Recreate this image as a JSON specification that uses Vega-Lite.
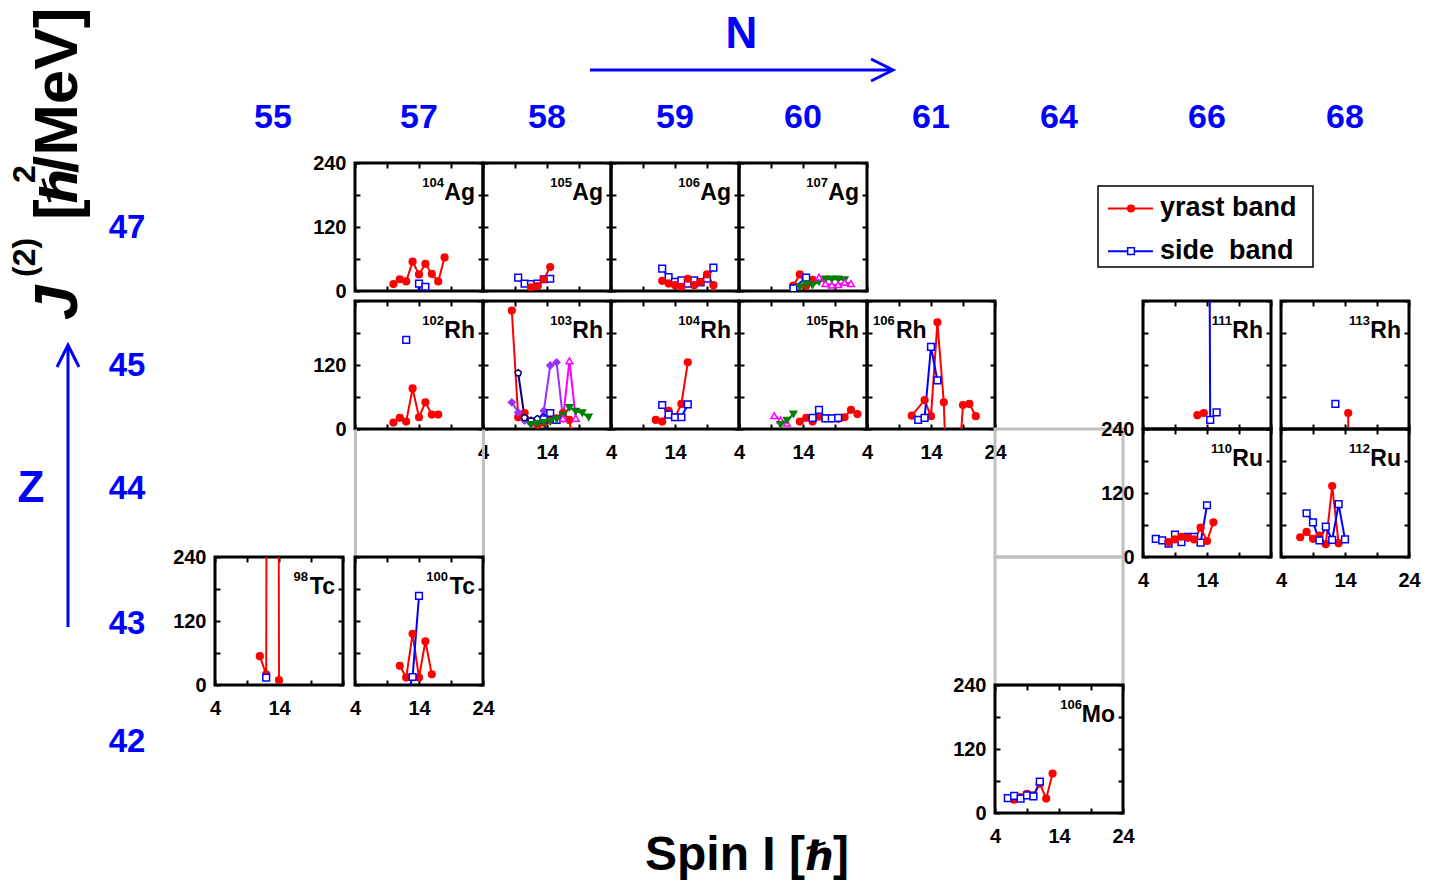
{
"$schema":"https://vega.github.io/schema/vega-lite/v6.json",
"padding":0,
"background":"white",
"config":{
 "view":{"stroke":null},
 "font":"Liberation Sans",
 "text":{"font":"Liberation Sans"},
 "concat":{"spacing":0},
 "axis":{"domain":false,"grid":false,"ticks":true,"tickSize":-5,"tickWidth":2,"tickColor":"black","labelFont":"Liberation Sans","labelFontSize":20,"labelFontWeight":"bold","labelColor":"black","labelFlush":false,"labelOverlap":false,"labelBound":false},
 "axisX":{"labelPadding":18},
 "axisY":{"labelPadding":14}
},
"datasets":{
 "nucs":[
  {"n":"104Ag","A":"104","el":"Ag"},{"n":"105Ag","A":"105","el":"Ag"},{"n":"106Ag","A":"106","el":"Ag"},{"n":"107Ag","A":"107","el":"Ag"},
  {"n":"102Rh","A":"102","el":"Rh"},{"n":"103Rh","A":"103","el":"Rh"},{"n":"104Rh","A":"104","el":"Rh"},{"n":"105Rh","A":"105","el":"Rh"},{"n":"106Rh","A":"106","el":"Rh"},{"n":"111Rh","A":"111","el":"Rh"},{"n":"113Rh","A":"113","el":"Rh"},
  {"n":"110Ru","A":"110","el":"Ru"},{"n":"112Ru","A":"112","el":"Ru"},
  {"n":"98Tc","A":"98","el":"Tc"},{"n":"100Tc","A":"100","el":"Tc"},
  {"n":"106Mo","A":"106","el":"Mo"}
 ],
 "pts":[
  {"n":"104Ag","b":"y","I":10,"J":13},{"n":"104Ag","b":"y","I":11,"J":22},{"n":"104Ag","b":"y","I":12,"J":18},{"n":"104Ag","b":"y","I":13,"J":55},{"n":"104Ag","b":"y","I":14,"J":31},{"n":"104Ag","b":"y","I":15,"J":51},{"n":"104Ag","b":"y","I":16,"J":32},{"n":"104Ag","b":"y","I":17,"J":18},{"n":"104Ag","b":"y","I":18,"J":63},
  {"n":"104Ag","b":"s","I":13,"J":-150},{"n":"104Ag","b":"s","I":14,"J":14},{"n":"104Ag","b":"s","I":15,"J":8},
  {"n":"105Ag","b":"s","I":9.5,"J":25},{"n":"105Ag","b":"s","I":10.5,"J":14},{"n":"105Ag","b":"s","I":11.5,"J":13},{"n":"105Ag","b":"s","I":12.5,"J":14},{"n":"105Ag","b":"s","I":13.5,"J":22},{"n":"105Ag","b":"s","I":14.5,"J":23},
  {"n":"105Ag","b":"y","I":11.5,"J":7},{"n":"105Ag","b":"y","I":12.5,"J":9},{"n":"105Ag","b":"y","I":13.5,"J":22},{"n":"105Ag","b":"y","I":14.5,"J":45},
  {"n":"106Ag","b":"s","I":12,"J":42},{"n":"106Ag","b":"s","I":13,"J":26},{"n":"106Ag","b":"s","I":14,"J":17},{"n":"106Ag","b":"s","I":15,"J":20},{"n":"106Ag","b":"s","I":16,"J":14},{"n":"106Ag","b":"s","I":17,"J":20},{"n":"106Ag","b":"s","I":18,"J":16},{"n":"106Ag","b":"s","I":19,"J":23},{"n":"106Ag","b":"s","I":20,"J":44},
  {"n":"106Ag","b":"y","I":12,"J":19},{"n":"106Ag","b":"y","I":13,"J":14},{"n":"106Ag","b":"y","I":14,"J":11},{"n":"106Ag","b":"y","I":15,"J":8},{"n":"106Ag","b":"y","I":16,"J":23},{"n":"106Ag","b":"y","I":17,"J":11},{"n":"106Ag","b":"y","I":18,"J":17},{"n":"106Ag","b":"y","I":19,"J":31},{"n":"106Ag","b":"y","I":20,"J":11},{"n":"106Ag","b":"y","I":21,"J":-60},
  {"n":"107Ag","b":"y","I":12.5,"J":10},{"n":"107Ag","b":"y","I":13.5,"J":31},{"n":"107Ag","b":"y","I":14.5,"J":10},{"n":"107Ag","b":"y","I":15.5,"J":21},
  {"n":"107Ag","b":"s","I":12.5,"J":5},{"n":"107Ag","b":"s","I":14.5,"J":25},
  {"n":"107Ag","b":"g","I":13.5,"J":7},{"n":"107Ag","b":"g","I":14.5,"J":13},{"n":"107Ag","b":"g","I":15.5,"J":11},{"n":"107Ag","b":"g","I":16.5,"J":17},{"n":"107Ag","b":"g","I":17.5,"J":22},{"n":"107Ag","b":"g","I":18.5,"J":22},{"n":"107Ag","b":"g","I":19.5,"J":22},{"n":"107Ag","b":"g","I":20.5,"J":21},
  {"n":"107Ag","b":"m","I":16.5,"J":26},{"n":"107Ag","b":"m","I":17.5,"J":14},{"n":"107Ag","b":"m","I":18.5,"J":11},{"n":"107Ag","b":"m","I":19.5,"J":12},{"n":"107Ag","b":"m","I":20.5,"J":16},{"n":"107Ag","b":"m","I":21.5,"J":14},
  {"n":"102Rh","b":"y","I":10,"J":12},{"n":"102Rh","b":"y","I":11,"J":21},{"n":"102Rh","b":"y","I":12,"J":14},{"n":"102Rh","b":"y","I":13,"J":76},{"n":"102Rh","b":"y","I":14,"J":22},{"n":"102Rh","b":"y","I":15,"J":50},{"n":"102Rh","b":"y","I":16,"J":27},{"n":"102Rh","b":"y","I":17,"J":27},
  {"n":"102Rh","b":"s","I":12,"J":167},
  {"n":"103Rh","b":"y","I":8.5,"J":222},{"n":"103Rh","b":"y","I":9.5,"J":22},{"n":"103Rh","b":"y","I":10.5,"J":30},{"n":"103Rh","b":"y","I":11.5,"J":15},{"n":"103Rh","b":"y","I":12.5,"J":8},{"n":"103Rh","b":"y","I":13.5,"J":12},{"n":"103Rh","b":"y","I":14.5,"J":16},{"n":"103Rh","b":"y","I":15.5,"J":20},{"n":"103Rh","b":"y","I":16.5,"J":30},{"n":"103Rh","b":"y","I":17.5,"J":17},{"n":"103Rh","b":"y","I":18.5,"J":-60},
  {"n":"103Rh","b":"p","I":8.5,"J":50},{"n":"103Rh","b":"p","I":9.5,"J":31},{"n":"103Rh","b":"p","I":10.5,"J":16},{"n":"103Rh","b":"p","I":11.5,"J":10},{"n":"103Rh","b":"p","I":12.5,"J":12},{"n":"103Rh","b":"p","I":13.5,"J":34},{"n":"103Rh","b":"p","I":14.5,"J":119},{"n":"103Rh","b":"p","I":15.5,"J":125},{"n":"103Rh","b":"p","I":16.5,"J":19},
  {"n":"103Rh","b":"n","I":9.5,"J":105},{"n":"103Rh","b":"n","I":10.5,"J":21},{"n":"103Rh","b":"n","I":11.5,"J":16},{"n":"103Rh","b":"n","I":12.5,"J":19},{"n":"103Rh","b":"n","I":13.5,"J":22},{"n":"103Rh","b":"n","I":14.5,"J":-60},
  {"n":"103Rh","b":"s","I":13.5,"J":18},{"n":"103Rh","b":"s","I":14.5,"J":30},{"n":"103Rh","b":"s","I":15.5,"J":17},
  {"n":"103Rh","b":"g","I":11.5,"J":8},{"n":"103Rh","b":"g","I":12.5,"J":10},{"n":"103Rh","b":"g","I":13.5,"J":12},{"n":"103Rh","b":"g","I":14.5,"J":14},{"n":"103Rh","b":"g","I":15.5,"J":18},{"n":"103Rh","b":"g","I":16.5,"J":25},{"n":"103Rh","b":"g","I":17.5,"J":40},{"n":"103Rh","b":"g","I":18.5,"J":33},{"n":"103Rh","b":"g","I":19.5,"J":30},{"n":"103Rh","b":"g","I":20.5,"J":22},
  {"n":"103Rh","b":"m","I":16.5,"J":20},{"n":"103Rh","b":"m","I":17.5,"J":128},{"n":"103Rh","b":"m","I":18.5,"J":20},
  {"n":"104Rh","b":"y","I":11,"J":17},{"n":"104Rh","b":"y","I":12,"J":14},{"n":"104Rh","b":"y","I":13,"J":34},{"n":"104Rh","b":"y","I":14,"J":22},{"n":"104Rh","b":"y","I":15,"J":47},{"n":"104Rh","b":"y","I":16,"J":125},
  {"n":"104Rh","b":"s","I":12,"J":45},{"n":"104Rh","b":"s","I":13,"J":27},{"n":"104Rh","b":"s","I":14,"J":22},{"n":"104Rh","b":"s","I":15,"J":22},{"n":"104Rh","b":"s","I":16,"J":46},
  {"n":"105Rh","b":"m","I":9.5,"J":25},{"n":"105Rh","b":"m","I":10.5,"J":17},{"n":"105Rh","b":"m","I":11.5,"J":11},
  {"n":"105Rh","b":"g","I":10.5,"J":8},{"n":"105Rh","b":"g","I":11.5,"J":16},{"n":"105Rh","b":"g","I":12.5,"J":28},
  {"n":"105Rh","b":"y","I":13.5,"J":14},{"n":"105Rh","b":"y","I":14.5,"J":21},{"n":"105Rh","b":"y","I":15.5,"J":14},{"n":"105Rh","b":"y","I":16.5,"J":23},{"n":"105Rh","b":"y","I":17.5,"J":20},{"n":"105Rh","b":"y","I":18.5,"J":20},{"n":"105Rh","b":"y","I":19.5,"J":19},{"n":"105Rh","b":"y","I":20.5,"J":22},{"n":"105Rh","b":"y","I":21.5,"J":36},{"n":"105Rh","b":"y","I":22.5,"J":28},
  {"n":"105Rh","b":"s","I":15.5,"J":21},{"n":"105Rh","b":"s","I":16.5,"J":36},{"n":"105Rh","b":"s","I":17.5,"J":20},{"n":"105Rh","b":"s","I":18.5,"J":20},{"n":"105Rh","b":"s","I":19.5,"J":21},
  {"n":"106Rh","b":"y","I":11,"J":25},{"n":"106Rh","b":"y","I":13,"J":54},{"n":"106Rh","b":"y","I":14,"J":24},{"n":"106Rh","b":"y","I":15,"J":200},{"n":"106Rh","b":"y","I":16,"J":50},{"n":"106Rh","b":"y","I":17,"J":-300},{"n":"106Rh","b":"y","I":19,"J":45},{"n":"106Rh","b":"y","I":20,"J":47},{"n":"106Rh","b":"y","I":21,"J":24},
  {"n":"106Rh","b":"s","I":12,"J":17},{"n":"106Rh","b":"s","I":13,"J":21},{"n":"106Rh","b":"s","I":14,"J":154},{"n":"106Rh","b":"s","I":15,"J":91},
  {"n":"111Rh","b":"y","I":12.5,"J":26},{"n":"111Rh","b":"y","I":13.5,"J":30},
  {"n":"111Rh","b":"s","I":13.5,"J":3000},{"n":"111Rh","b":"s","I":14.5,"J":17},{"n":"111Rh","b":"s","I":15.5,"J":31},
  {"n":"113Rh","b":"s","I":12.5,"J":47},
  {"n":"113Rh","b":"y","I":14.5,"J":30},{"n":"113Rh","b":"y","I":15.5,"J":-3000},
  {"n":"110Ru","b":"s","I":6,"J":34},{"n":"110Ru","b":"s","I":7,"J":31},{"n":"110Ru","b":"s","I":8,"J":25},{"n":"110Ru","b":"s","I":9,"J":42},{"n":"110Ru","b":"s","I":10,"J":28},{"n":"110Ru","b":"s","I":11,"J":38},{"n":"110Ru","b":"s","I":12,"J":38},{"n":"110Ru","b":"s","I":13,"J":27},{"n":"110Ru","b":"s","I":14,"J":97},
  {"n":"110Ru","b":"y","I":8,"J":28},{"n":"110Ru","b":"y","I":9,"J":33},{"n":"110Ru","b":"y","I":10,"J":38},{"n":"110Ru","b":"y","I":11,"J":36},{"n":"110Ru","b":"y","I":12,"J":33},{"n":"110Ru","b":"y","I":13,"J":55},{"n":"110Ru","b":"y","I":14,"J":30},{"n":"110Ru","b":"y","I":15,"J":65},
  {"n":"112Ru","b":"y","I":7,"J":37},{"n":"112Ru","b":"y","I":8,"J":47},{"n":"112Ru","b":"y","I":9,"J":34},{"n":"112Ru","b":"y","I":10,"J":40},{"n":"112Ru","b":"y","I":11,"J":24},{"n":"112Ru","b":"y","I":12,"J":133},{"n":"112Ru","b":"y","I":13,"J":26},
  {"n":"112Ru","b":"s","I":8,"J":82},{"n":"112Ru","b":"s","I":9,"J":65},{"n":"112Ru","b":"s","I":10,"J":31},{"n":"112Ru","b":"s","I":11,"J":57},{"n":"112Ru","b":"s","I":12,"J":32},{"n":"112Ru","b":"s","I":13,"J":99},{"n":"112Ru","b":"s","I":14,"J":33},
  {"n":"98Tc","b":"y","I":11,"J":54},{"n":"98Tc","b":"y","I":12,"J":20},{"n":"98Tc","b":"y","I":13,"J":6000},{"n":"98Tc","b":"y","I":14,"J":9},
  {"n":"98Tc","b":"s","I":12,"J":14},
  {"n":"100Tc","b":"y","I":11,"J":36},{"n":"100Tc","b":"y","I":12,"J":14},{"n":"100Tc","b":"y","I":13,"J":96},{"n":"100Tc","b":"y","I":14,"J":14},{"n":"100Tc","b":"y","I":15,"J":82},{"n":"100Tc","b":"y","I":16,"J":20},
  {"n":"100Tc","b":"s","I":12,"J":-25},{"n":"100Tc","b":"s","I":13,"J":15},{"n":"100Tc","b":"s","I":14,"J":167},
  {"n":"106Mo","b":"y","I":7,"J":25},{"n":"106Mo","b":"y","I":8,"J":30},{"n":"106Mo","b":"y","I":9,"J":36},{"n":"106Mo","b":"y","I":10,"J":33},{"n":"106Mo","b":"y","I":11,"J":55},{"n":"106Mo","b":"y","I":12,"J":27},{"n":"106Mo","b":"y","I":13,"J":74},
  {"n":"106Mo","b":"s","I":6,"J":28},{"n":"106Mo","b":"s","I":7,"J":32},{"n":"106Mo","b":"s","I":8,"J":27},{"n":"106Mo","b":"s","I":9,"J":33},{"n":"106Mo","b":"s","I":10,"J":31},{"n":"106Mo","b":"s","I":11,"J":59}
 ]
},
"columns":15,
"spacing":0,
"bounds":"flush",
"concat":[
 {"width":100,"height":70,"view":{"fill":"white"},"data":{"values":[]},"mark":"point"},
 {"width":1,"height":1,"data":{"values":[]},"mark":"point"},
 {"width":1,"height":1,"data":{"values":[]},"mark":"point"},
 {"width":1,"height":1,"data":{"values":[]},"mark":"point"},
 {"width":1,"height":1,"data":{"values":[]},"mark":"point"},
 {"width":1,"height":1,"data":{"values":[]},"mark":"point"},
 {"width":1,"height":1,"data":{"values":[]},"mark":"point"},
 {"width":128,"height":70,"data":{"values":[{"t":"N"}]},"layer":[
  {"mark":{"type":"rule","stroke":"#0000ff","strokeWidth":3},"encoding":{"x":{"datum":0,"type":"quantitative","scale":{"domain":[0.0693,0.4917],"nice":false,"zero":false},"axis":null},"x2":{"datum":1},"y":{"datum":0,"type":"quantitative","scale":{"domain":[0,1],"nice":false},"axis":null}}},
  {"mark":{"type":"point","shape":"M-2,-1L0,0L-2,1","size":484,"filled":false,"stroke":"#0000ff","strokeWidth":3,"opacity":1},"encoding":{"x":{"datum":1,"type":"quantitative"},"y":{"datum":0,"type":"quantitative"}}},
  {"mark":{"type":"text","fontSize":44,"fontWeight":"bold","color":"#0000ff","baseline":"alphabetic","dy":13},"encoding":{"x":{"datum":0.5,"type":"quantitative"},"y":{"datum":0.5,"type":"quantitative"},"text":{"field":"t","type":"nominal"}}}
 ]},
 {"width":1,"height":1,"data":{"values":[]},"mark":"point"},
 {"width":1,"height":1,"data":{"values":[]},"mark":"point"},
 {"width":1,"height":1,"data":{"values":[]},"mark":"point"},
 {"width":1,"height":1,"data":{"values":[]},"mark":"point"},
 {"width":1,"height":1,"data":{"values":[]},"mark":"point"},
 {"width":1,"height":1,"data":{"values":[]},"mark":"point"},
 {"width":1,"height":1,"data":{"values":[]},"mark":"point"},

 {"width":1,"height":1,"data":{"values":[]},"mark":"point"},
 {"width":1,"height":1,"data":{"values":[]},"mark":"point"},
 {"width":1,"height":93,"data":{"values":[]},"mark":"point"},
 {"width":128,"height":93,"data":{"values":[{"t":"55"}]},"mark":{"type":"text","fontSize":34,"fontWeight":"bold","color":"#0000ff","baseline":"alphabetic","dy":11.5,"dx":-6},"encoding":{"x":{"datum":0.5,"type":"quantitative","scale":{"domain":[0,1]},"axis":null},"y":{"datum":0.5,"type":"quantitative","scale":{"domain":[0,1]},"axis":null},"text":{"field":"t","type":"nominal"}}},
 {"width":1,"height":1,"data":{"values":[]},"mark":"point"},
 {"width":128,"height":93,"data":{"values":[{"t":"57"}]},"mark":{"type":"text","fontSize":34,"fontWeight":"bold","color":"#0000ff","baseline":"alphabetic","dy":11.5},"encoding":{"x":{"datum":0.5,"type":"quantitative","scale":{"domain":[0,1]},"axis":null},"y":{"datum":0.5,"type":"quantitative","scale":{"domain":[0,1]},"axis":null},"text":{"field":"t","type":"nominal"}}},
 {"width":128,"height":93,"data":{"values":[{"t":"58"}]},"mark":{"type":"text","fontSize":34,"fontWeight":"bold","color":"#0000ff","baseline":"alphabetic","dy":11.5},"encoding":{"x":{"datum":0.5,"type":"quantitative","scale":{"domain":[0,1]},"axis":null},"y":{"datum":0.5,"type":"quantitative","scale":{"domain":[0,1]},"axis":null},"text":{"field":"t","type":"nominal"}}},
 {"width":128,"height":93,"data":{"values":[{"t":"59"}]},"mark":{"type":"text","fontSize":34,"fontWeight":"bold","color":"#0000ff","baseline":"alphabetic","dy":11.5},"encoding":{"x":{"datum":0.5,"type":"quantitative","scale":{"domain":[0,1]},"axis":null},"y":{"datum":0.5,"type":"quantitative","scale":{"domain":[0,1]},"axis":null},"text":{"field":"t","type":"nominal"}}},
 {"width":128,"height":93,"data":{"values":[{"t":"60"}]},"mark":{"type":"text","fontSize":34,"fontWeight":"bold","color":"#0000ff","baseline":"alphabetic","dy":11.5},"encoding":{"x":{"datum":0.5,"type":"quantitative","scale":{"domain":[0,1]},"axis":null},"y":{"datum":0.5,"type":"quantitative","scale":{"domain":[0,1]},"axis":null},"text":{"field":"t","type":"nominal"}}},
 {"width":128,"height":93,"data":{"values":[{"t":"61"}]},"mark":{"type":"text","fontSize":34,"fontWeight":"bold","color":"#0000ff","baseline":"alphabetic","dy":11.5},"encoding":{"x":{"datum":0.5,"type":"quantitative","scale":{"domain":[0,1]},"axis":null},"y":{"datum":0.5,"type":"quantitative","scale":{"domain":[0,1]},"axis":null},"text":{"field":"t","type":"nominal"}}},
 {"width":128,"height":93,"data":{"values":[{"t":"64"}]},"mark":{"type":"text","fontSize":34,"fontWeight":"bold","color":"#0000ff","baseline":"alphabetic","dy":11.5},"encoding":{"x":{"datum":0.5,"type":"quantitative","scale":{"domain":[0,1]},"axis":null},"y":{"datum":0.5,"type":"quantitative","scale":{"domain":[0,1]},"axis":null},"text":{"field":"t","type":"nominal"}}},
 {"width":1,"height":1,"data":{"values":[]},"mark":"point"},
 {"width":128,"height":93,"data":{"values":[{"t":"66"}]},"mark":{"type":"text","fontSize":34,"fontWeight":"bold","color":"#0000ff","baseline":"alphabetic","dy":11.5},"encoding":{"x":{"datum":0.5,"type":"quantitative","scale":{"domain":[0,1]},"axis":null},"y":{"datum":0.5,"type":"quantitative","scale":{"domain":[0,1]},"axis":null},"text":{"field":"t","type":"nominal"}}},
 {"width":1,"height":1,"data":{"values":[]},"mark":"point"},
 {"width":128,"height":93,"data":{"values":[{"t":"68"}]},"mark":{"type":"text","fontSize":34,"fontWeight":"bold","color":"#0000ff","baseline":"alphabetic","dy":11.5},"encoding":{"x":{"datum":0.5,"type":"quantitative","scale":{"domain":[0,1]},"axis":null},"y":{"datum":0.5,"type":"quantitative","scale":{"domain":[0,1]},"axis":null},"text":{"field":"t","type":"nominal"}}},

 {"width":100,"height":128,"data":{"values":[{"t":"J"}]},"layer":[
  {"mark":{"type":"text","angle":270,"align":"left","baseline":"alphabetic","dx":-93,"dy":27,"fontSize":62,"fontWeight":"bold","fontStyle":"italic","color":"black"},"encoding":{"x":{"datum":0.5,"type":"quantitative","scale":{"domain":[0,1]},"axis":null},"y":{"datum":0.5,"type":"quantitative","scale":{"domain":[0,1]},"axis":null},"text":{"value":"J"}}},
  {"mark":{"type":"text","angle":270,"align":"left","baseline":"alphabetic","dx":-50,"dy":-15,"fontSize":32,"fontWeight":"bold","color":"black"},"encoding":{"x":{"datum":0.5,"type":"quantitative"},"y":{"datum":0.5,"type":"quantitative"},"text":{"value":"(2)"}}},
  {"mark":{"type":"text","angle":270,"align":"left","baseline":"alphabetic","dx":7,"dy":27,"fontSize":62,"fontWeight":"bold","color":"black"},"encoding":{"x":{"datum":0.5,"type":"quantitative"},"y":{"datum":0.5,"type":"quantitative"},"text":{"value":"["}}},
  {"mark":{"type":"text","angle":270,"align":"left","baseline":"alphabetic","dx":24,"dy":27,"fontSize":50,"fontWeight":"bold","fontStyle":"italic","font":"DejaVu Sans","color":"black"},"encoding":{"x":{"datum":0.5,"type":"quantitative"},"y":{"datum":0.5,"type":"quantitative"},"text":{"value":"ℏ"}}},
  {"mark":{"type":"text","angle":270,"align":"left","baseline":"alphabetic","dx":44,"dy":-15,"fontSize":32,"fontWeight":"bold","color":"black"},"encoding":{"x":{"datum":0.5,"type":"quantitative"},"y":{"datum":0.5,"type":"quantitative"},"text":{"value":"2"}}},
  {"mark":{"type":"text","angle":270,"align":"left","baseline":"alphabetic","dx":54,"dy":27,"fontSize":62,"fontWeight":"bold","color":"black"},"encoding":{"x":{"datum":0.5,"type":"quantitative"},"y":{"datum":0.5,"type":"quantitative"},"text":{"value":"/MeV]"}}}
 ]},
 {"width":54,"height":128,"data":{"values":[{"t":"47"}]},"mark":{"type":"text","fontSize":33,"fontWeight":"bold","color":"#0000ff","baseline":"alphabetic","dy":11},"encoding":{"x":{"datum":0.5,"type":"quantitative","scale":{"domain":[0,1]},"axis":null},"y":{"datum":0.5,"type":"quantitative","scale":{"domain":[0,1]},"axis":null},"text":{"field":"t","type":"nominal"}}},
 {"width":1,"height":1,"data":{"values":[]},"mark":"point"},
 {"width":1,"height":1,"data":{"values":[]},"mark":"point"},
 {"width":1,"height":1,"data":{"values":[]},"mark":"point"},
 {"width":128,"height":128,"view":{"stroke":"black","strokeWidth":3},"resolve":{"axis":{"x":"independent","y":"independent"}},"layer":[
  {"data":{"name":"pts"},"transform":[{"filter":"datum.n=='104Ag'"}],"mark":{"type":"line","clip":true,"strokeWidth":2},"encoding":{"x":{"field":"I","type":"quantitative","scale":{"domain":[4,24],"nice":false,"zero":false},"axis":{"orient":"bottom","values":[4,9,14,19,24],"labels":false,"title":null}},"y":{"field":"J","type":"quantitative","scale":{"domain":[0,240],"nice":false},"axis":{"orient":"left","values":[0,60,120,180,240],"labelExpr":"datum.value%120==0?datum.label:''","title":null}},"stroke":{"field":"b","type":"nominal","scale":{"domain":["y","s","p","n","g","m"],"range":["#ff0000","#0000ff","#9932ff","#000080","#008000","#ff00ff"]},"legend":null}}},
  {"data":{"name":"pts"},"transform":[{"filter":"datum.n=='104Ag'"}],"mark":{"type":"point","clip":true,"filled":true,"size":45,"strokeWidth":1.5,"opacity":1},"encoding":{"x":{"field":"I","type":"quantitative","axis":{"orient":"top","values":[4,9,14,19,24],"labels":false,"title":null}},"y":{"field":"J","type":"quantitative","axis":{"orient":"right","values":[0,60,120,180,240],"labels":false,"title":null}},"stroke":{"field":"b","type":"nominal","scale":{"domain":["y","s","p","n","g","m"],"range":["#ff0000","#0000ff","#9932ff","#000080","#008000","#ff00ff"]},"legend":null},"fill":{"field":"b","type":"nominal","scale":{"domain":["y","s","p","n","g","m"],"range":["#ff0000","#ffffff","#9932ff","#ffffff","#008000","#ffffff"]},"legend":null},"shape":{"field":"b","type":"nominal","scale":{"domain":["y","s","p","n","g","m"],"range":["circle","square","diamond","M0,-1L0.951,-0.309L0.588,0.809L-0.588,0.809L-0.951,-0.309Z","triangle-down","triangle-up"]},"legend":null}}},
  {"data":{"name":"nucs"},"transform":[{"filter":"datum.n=='104Ag'"}],"mark":{"type":"text","align":"right","baseline":"alphabetic","dx":-8,"dy":37,"fontSize":23,"fontWeight":"bold","color":"black"},"encoding":{"x":{"datum":24,"type":"quantitative","axis":null},"y":{"datum":240,"type":"quantitative","axis":null},"text":{"field":"el","type":"nominal"}}},
  {"data":{"name":"nucs"},"transform":[{"filter":"datum.n=='104Ag'"}],"mark":{"type":"text","align":"right","baseline":"alphabetic","dx":-39,"dy":24,"fontSize":13,"fontWeight":"bold","color":"black"},"encoding":{"x":{"datum":24,"type":"quantitative","axis":null},"y":{"datum":240,"type":"quantitative","axis":null},"text":{"field":"A","type":"nominal"}}}
 ]},
 {"width":128,"height":128,"view":{"stroke":"black","strokeWidth":3},"resolve":{"axis":{"x":"independent","y":"independent"}},"layer":[
  {"data":{"name":"pts"},"transform":[{"filter":"datum.n=='105Ag'"}],"mark":{"type":"line","clip":true,"strokeWidth":2},"encoding":{"x":{"field":"I","type":"quantitative","scale":{"domain":[4,24],"nice":false,"zero":false},"axis":{"orient":"bottom","values":[4,9,14,19,24],"labels":false,"title":null}},"y":{"field":"J","type":"quantitative","scale":{"domain":[0,240],"nice":false},"axis":{"orient":"left","values":[0,60,120,180,240],"labels":false,"title":null}},"stroke":{"field":"b","type":"nominal","scale":{"domain":["y","s","p","n","g","m"],"range":["#ff0000","#0000ff","#9932ff","#000080","#008000","#ff00ff"]},"legend":null}}},
  {"data":{"name":"pts"},"transform":[{"filter":"datum.n=='105Ag'"}],"mark":{"type":"point","clip":true,"filled":true,"size":45,"strokeWidth":1.5,"opacity":1},"encoding":{"x":{"field":"I","type":"quantitative","axis":{"orient":"top","values":[4,9,14,19,24],"labels":false,"title":null}},"y":{"field":"J","type":"quantitative","axis":{"orient":"right","values":[0,60,120,180,240],"labels":false,"title":null}},"stroke":{"field":"b","type":"nominal","scale":{"domain":["y","s","p","n","g","m"],"range":["#ff0000","#0000ff","#9932ff","#000080","#008000","#ff00ff"]},"legend":null},"fill":{"field":"b","type":"nominal","scale":{"domain":["y","s","p","n","g","m"],"range":["#ff0000","#ffffff","#9932ff","#ffffff","#008000","#ffffff"]},"legend":null},"shape":{"field":"b","type":"nominal","scale":{"domain":["y","s","p","n","g","m"],"range":["circle","square","diamond","M0,-1L0.951,-0.309L0.588,0.809L-0.588,0.809L-0.951,-0.309Z","triangle-down","triangle-up"]},"legend":null}}},
  {"data":{"name":"nucs"},"transform":[{"filter":"datum.n=='105Ag'"}],"mark":{"type":"text","align":"right","baseline":"alphabetic","dx":-8,"dy":37,"fontSize":23,"fontWeight":"bold","color":"black"},"encoding":{"x":{"datum":24,"type":"quantitative","axis":null},"y":{"datum":240,"type":"quantitative","axis":null},"text":{"field":"el","type":"nominal"}}},
  {"data":{"name":"nucs"},"transform":[{"filter":"datum.n=='105Ag'"}],"mark":{"type":"text","align":"right","baseline":"alphabetic","dx":-39,"dy":24,"fontSize":13,"fontWeight":"bold","color":"black"},"encoding":{"x":{"datum":24,"type":"quantitative","axis":null},"y":{"datum":240,"type":"quantitative","axis":null},"text":{"field":"A","type":"nominal"}}}
 ]},
 {"width":128,"height":128,"view":{"stroke":"black","strokeWidth":3},"resolve":{"axis":{"x":"independent","y":"independent"}},"layer":[
  {"data":{"name":"pts"},"transform":[{"filter":"datum.n=='106Ag'"}],"mark":{"type":"line","clip":true,"strokeWidth":2},"encoding":{"x":{"field":"I","type":"quantitative","scale":{"domain":[4,24],"nice":false,"zero":false},"axis":{"orient":"bottom","values":[4,9,14,19,24],"labels":false,"title":null}},"y":{"field":"J","type":"quantitative","scale":{"domain":[0,240],"nice":false},"axis":{"orient":"left","values":[0,60,120,180,240],"labels":false,"title":null}},"stroke":{"field":"b","type":"nominal","scale":{"domain":["y","s","p","n","g","m"],"range":["#ff0000","#0000ff","#9932ff","#000080","#008000","#ff00ff"]},"legend":null}}},
  {"data":{"name":"pts"},"transform":[{"filter":"datum.n=='106Ag'"}],"mark":{"type":"point","clip":true,"filled":true,"size":45,"strokeWidth":1.5,"opacity":1},"encoding":{"x":{"field":"I","type":"quantitative","axis":{"orient":"top","values":[4,9,14,19,24],"labels":false,"title":null}},"y":{"field":"J","type":"quantitative","axis":{"orient":"right","values":[0,60,120,180,240],"labels":false,"title":null}},"stroke":{"field":"b","type":"nominal","scale":{"domain":["y","s","p","n","g","m"],"range":["#ff0000","#0000ff","#9932ff","#000080","#008000","#ff00ff"]},"legend":null},"fill":{"field":"b","type":"nominal","scale":{"domain":["y","s","p","n","g","m"],"range":["#ff0000","#ffffff","#9932ff","#ffffff","#008000","#ffffff"]},"legend":null},"shape":{"field":"b","type":"nominal","scale":{"domain":["y","s","p","n","g","m"],"range":["circle","square","diamond","M0,-1L0.951,-0.309L0.588,0.809L-0.588,0.809L-0.951,-0.309Z","triangle-down","triangle-up"]},"legend":null}}},
  {"data":{"name":"nucs"},"transform":[{"filter":"datum.n=='106Ag'"}],"mark":{"type":"text","align":"right","baseline":"alphabetic","dx":-8,"dy":37,"fontSize":23,"fontWeight":"bold","color":"black"},"encoding":{"x":{"datum":24,"type":"quantitative","axis":null},"y":{"datum":240,"type":"quantitative","axis":null},"text":{"field":"el","type":"nominal"}}},
  {"data":{"name":"nucs"},"transform":[{"filter":"datum.n=='106Ag'"}],"mark":{"type":"text","align":"right","baseline":"alphabetic","dx":-39,"dy":24,"fontSize":13,"fontWeight":"bold","color":"black"},"encoding":{"x":{"datum":24,"type":"quantitative","axis":null},"y":{"datum":240,"type":"quantitative","axis":null},"text":{"field":"A","type":"nominal"}}}
 ]},
 {"width":128,"height":128,"view":{"stroke":"black","strokeWidth":3},"resolve":{"axis":{"x":"independent","y":"independent"}},"layer":[
  {"data":{"name":"pts"},"transform":[{"filter":"datum.n=='107Ag'"}],"mark":{"type":"line","clip":true,"strokeWidth":2},"encoding":{"x":{"field":"I","type":"quantitative","scale":{"domain":[4,24],"nice":false,"zero":false},"axis":{"orient":"bottom","values":[4,9,14,19,24],"labels":false,"title":null}},"y":{"field":"J","type":"quantitative","scale":{"domain":[0,240],"nice":false},"axis":{"orient":"left","values":[0,60,120,180,240],"labels":false,"title":null}},"stroke":{"field":"b","type":"nominal","scale":{"domain":["y","s","p","n","g","m"],"range":["#ff0000","#0000ff","#9932ff","#000080","#008000","#ff00ff"]},"legend":null}}},
  {"data":{"name":"pts"},"transform":[{"filter":"datum.n=='107Ag'"}],"mark":{"type":"point","clip":true,"filled":true,"size":45,"strokeWidth":1.5,"opacity":1},"encoding":{"x":{"field":"I","type":"quantitative","axis":{"orient":"top","values":[4,9,14,19,24],"labels":false,"title":null}},"y":{"field":"J","type":"quantitative","axis":{"orient":"right","values":[0,60,120,180,240],"labels":false,"title":null}},"stroke":{"field":"b","type":"nominal","scale":{"domain":["y","s","p","n","g","m"],"range":["#ff0000","#0000ff","#9932ff","#000080","#008000","#ff00ff"]},"legend":null},"fill":{"field":"b","type":"nominal","scale":{"domain":["y","s","p","n","g","m"],"range":["#ff0000","#ffffff","#9932ff","#ffffff","#008000","#ffffff"]},"legend":null},"shape":{"field":"b","type":"nominal","scale":{"domain":["y","s","p","n","g","m"],"range":["circle","square","diamond","M0,-1L0.951,-0.309L0.588,0.809L-0.588,0.809L-0.951,-0.309Z","triangle-down","triangle-up"]},"legend":null}}},
  {"data":{"name":"nucs"},"transform":[{"filter":"datum.n=='107Ag'"}],"mark":{"type":"text","align":"right","baseline":"alphabetic","dx":-8,"dy":37,"fontSize":23,"fontWeight":"bold","color":"black"},"encoding":{"x":{"datum":24,"type":"quantitative","axis":null},"y":{"datum":240,"type":"quantitative","axis":null},"text":{"field":"el","type":"nominal"}}},
  {"data":{"name":"nucs"},"transform":[{"filter":"datum.n=='107Ag'"}],"mark":{"type":"text","align":"right","baseline":"alphabetic","dx":-39,"dy":24,"fontSize":13,"fontWeight":"bold","color":"black"},"encoding":{"x":{"datum":24,"type":"quantitative","axis":null},"y":{"datum":240,"type":"quantitative","axis":null},"text":{"field":"A","type":"nominal"}}}
 ]},
 {"width":1,"height":1,"data":{"values":[]},"mark":"point"},
 {"width":1,"height":1,"data":{"values":[]},"mark":"point"},
 {"width":1,"height":1,"data":{"values":[]},"mark":"point"},
 {"width":128,"height":128,"data":{"values":[{"b":"y","lab":"yrast band"},{"b":"s","lab":"side\u00a0 band"}]},"resolve":{"scale":{"y":"independent"}},"layer":[
  {"data":{"values":[{"box":1}]},"mark":{"type":"rect","fill":"white","stroke":"black","strokeWidth":1.5},"encoding":{"x":{"datum":0,"type":"quantitative","scale":{"domain":[0.2093,0.8047],"nice":false,"zero":false},"axis":null},"x2":{"datum":1},"y":{"datum":0,"type":"quantitative","scale":{"domain":[-0.2963,1.2839],"nice":false,"zero":false},"axis":null},"y2":{"datum":1}}},
  {"mark":{"type":"rule","strokeWidth":2},"encoding":{"x":{"datum":0.0465,"type":"quantitative"},"x2":{"datum":0.256},"y":{"field":"b","type":"nominal","scale":{"type":"point","domain":["y","s"],"padding":1.278,"align":0.533},"axis":null},"stroke":{"field":"b","type":"nominal","scale":{"domain":["y","s","p","n","g","m"],"range":["#ff0000","#0000ff","#9932ff","#000080","#008000","#ff00ff"]},"legend":null}}},
  {"mark":{"type":"point","filled":true,"size":45,"strokeWidth":1.5,"opacity":1},"encoding":{"x":{"datum":0.1535,"type":"quantitative"},"y":{"field":"b","type":"nominal","scale":{"type":"point","domain":["y","s"],"padding":1.278,"align":0.533},"axis":null},"stroke":{"field":"b","type":"nominal","scale":{"domain":["y","s","p","n","g","m"],"range":["#ff0000","#0000ff","#9932ff","#000080","#008000","#ff00ff"]},"legend":null},"fill":{"field":"b","type":"nominal","scale":{"domain":["y","s","p","n","g","m"],"range":["#ff0000","#ffffff","#9932ff","#ffffff","#008000","#ffffff"]},"legend":null},"shape":{"field":"b","type":"nominal","scale":{"domain":["y","s","p","n","g","m"],"range":["circle","square","diamond","M0,-1L0.951,-0.309L0.588,0.809L-0.588,0.809L-0.951,-0.309Z","triangle-down","triangle-up"]},"legend":null}}},
  {"mark":{"type":"text","align":"left","baseline":"middle","fontSize":27,"fontWeight":"bold","color":"black"},"encoding":{"x":{"datum":0.288,"type":"quantitative"},"y":{"field":"b","type":"nominal","scale":{"type":"point","domain":["y","s"],"padding":1.278,"align":0.533},"axis":null},"text":{"field":"lab","type":"nominal"}}}
 ]},
 {"width":1,"height":1,"data":{"values":[]},"mark":"point"},
 {"width":1,"height":1,"data":{"values":[]},"mark":"point"},

 {"width":100,"height":10,"data":{"values":[]},"mark":"point"},
 {"width":54,"height":10,"data":{"values":[]},"mark":"point"},
 {"width":61,"height":10,"data":{"values":[]},"mark":"point"},
 {"width":128,"height":10,"data":{"values":[]},"mark":"point"},
 {"width":12,"height":10,"data":{"values":[]},"mark":"point"},
 {"width":128,"height":10,"data":{"values":[]},"mark":"point"},
 {"width":128,"height":10,"data":{"values":[]},"mark":"point"},
 {"width":128,"height":10,"data":{"values":[]},"mark":"point"},
 {"width":128,"height":10,"data":{"values":[]},"mark":"point"},
 {"width":128,"height":10,"data":{"values":[]},"mark":"point"},
 {"width":128,"height":10,"data":{"values":[]},"mark":"point"},
 {"width":20,"height":10,"data":{"values":[]},"mark":"point"},
 {"width":128,"height":10,"data":{"values":[]},"mark":"point"},
 {"width":10,"height":10,"data":{"values":[]},"mark":"point"},
 {"width":128,"height":10,"data":{"values":[]},"mark":"point"},

 {"width":1,"height":1,"data":{"values":[]},"mark":"point"},
 {"width":54,"height":128,"data":{"values":[{"t":"45"}]},"mark":{"type":"text","fontSize":33,"fontWeight":"bold","color":"#0000ff","baseline":"alphabetic","dy":11},"encoding":{"x":{"datum":0.5,"type":"quantitative","scale":{"domain":[0,1]},"axis":null},"y":{"datum":0.5,"type":"quantitative","scale":{"domain":[0,1]},"axis":null},"text":{"field":"t","type":"nominal"}}},
 {"width":1,"height":1,"data":{"values":[]},"mark":"point"},
 {"width":1,"height":1,"data":{"values":[]},"mark":"point"},
 {"width":1,"height":1,"data":{"values":[]},"mark":"point"},
 {"width":128,"height":128,"view":{"stroke":"black","strokeWidth":3},"resolve":{"axis":{"x":"independent","y":"independent"}},"layer":[
  {"data":{"name":"pts"},"transform":[{"filter":"datum.n=='102Rh'"}],"mark":{"type":"line","clip":true,"strokeWidth":2},"encoding":{"x":{"field":"I","type":"quantitative","scale":{"domain":[4,24],"nice":false,"zero":false},"axis":{"orient":"bottom","values":[4,9,14,19,24],"labels":false,"title":null}},"y":{"field":"J","type":"quantitative","scale":{"domain":[0,240],"nice":false},"axis":{"orient":"left","values":[0,60,120,180,240],"labelExpr":"datum.value<=120&&datum.value%120==0?datum.label:''","title":null}},"stroke":{"field":"b","type":"nominal","scale":{"domain":["y","s","p","n","g","m"],"range":["#ff0000","#0000ff","#9932ff","#000080","#008000","#ff00ff"]},"legend":null}}},
  {"data":{"name":"pts"},"transform":[{"filter":"datum.n=='102Rh'"}],"mark":{"type":"point","clip":true,"filled":true,"size":45,"strokeWidth":1.5,"opacity":1},"encoding":{"x":{"field":"I","type":"quantitative","axis":{"orient":"top","values":[4,9,14,19,24],"labels":false,"title":null}},"y":{"field":"J","type":"quantitative","axis":{"orient":"right","values":[0,60,120,180,240],"labels":false,"title":null}},"stroke":{"field":"b","type":"nominal","scale":{"domain":["y","s","p","n","g","m"],"range":["#ff0000","#0000ff","#9932ff","#000080","#008000","#ff00ff"]},"legend":null},"fill":{"field":"b","type":"nominal","scale":{"domain":["y","s","p","n","g","m"],"range":["#ff0000","#ffffff","#9932ff","#ffffff","#008000","#ffffff"]},"legend":null},"shape":{"field":"b","type":"nominal","scale":{"domain":["y","s","p","n","g","m"],"range":["circle","square","diamond","M0,-1L0.951,-0.309L0.588,0.809L-0.588,0.809L-0.951,-0.309Z","triangle-down","triangle-up"]},"legend":null}}},
  {"data":{"name":"nucs"},"transform":[{"filter":"datum.n=='102Rh'"}],"mark":{"type":"text","align":"right","baseline":"alphabetic","dx":-8,"dy":37,"fontSize":23,"fontWeight":"bold","color":"black"},"encoding":{"x":{"datum":24,"type":"quantitative","axis":null},"y":{"datum":240,"type":"quantitative","axis":null},"text":{"field":"el","type":"nominal"}}},
  {"data":{"name":"nucs"},"transform":[{"filter":"datum.n=='102Rh'"}],"mark":{"type":"text","align":"right","baseline":"alphabetic","dx":-39,"dy":24,"fontSize":13,"fontWeight":"bold","color":"black"},"encoding":{"x":{"datum":24,"type":"quantitative","axis":null},"y":{"datum":240,"type":"quantitative","axis":null},"text":{"field":"A","type":"nominal"}}}
 ]},
 {"width":128,"height":128,"view":{"stroke":"black","strokeWidth":3},"resolve":{"axis":{"x":"independent","y":"independent"}},"layer":[
  {"data":{"name":"pts"},"transform":[{"filter":"datum.n=='103Rh'"}],"mark":{"type":"line","clip":true,"strokeWidth":2},"encoding":{"x":{"field":"I","type":"quantitative","scale":{"domain":[4,24],"nice":false,"zero":false},"axis":{"orient":"bottom","values":[4,9,14,19,24],"labelExpr":"datum.value==4||datum.value==14?datum.label:''","title":null}},"y":{"field":"J","type":"quantitative","scale":{"domain":[0,240],"nice":false},"axis":{"orient":"left","values":[0,60,120,180,240],"labels":false,"title":null}},"stroke":{"field":"b","type":"nominal","scale":{"domain":["y","s","p","n","g","m"],"range":["#ff0000","#0000ff","#9932ff","#000080","#008000","#ff00ff"]},"legend":null}}},
  {"data":{"name":"pts"},"transform":[{"filter":"datum.n=='103Rh'"}],"mark":{"type":"point","clip":true,"filled":true,"size":45,"strokeWidth":1.5,"opacity":1},"encoding":{"x":{"field":"I","type":"quantitative","axis":{"orient":"top","values":[4,9,14,19,24],"labels":false,"title":null}},"y":{"field":"J","type":"quantitative","axis":{"orient":"right","values":[0,60,120,180,240],"labels":false,"title":null}},"stroke":{"field":"b","type":"nominal","scale":{"domain":["y","s","p","n","g","m"],"range":["#ff0000","#0000ff","#9932ff","#000080","#008000","#ff00ff"]},"legend":null},"fill":{"field":"b","type":"nominal","scale":{"domain":["y","s","p","n","g","m"],"range":["#ff0000","#ffffff","#9932ff","#ffffff","#008000","#ffffff"]},"legend":null},"shape":{"field":"b","type":"nominal","scale":{"domain":["y","s","p","n","g","m"],"range":["circle","square","diamond","M0,-1L0.951,-0.309L0.588,0.809L-0.588,0.809L-0.951,-0.309Z","triangle-down","triangle-up"]},"legend":null}}},
  {"data":{"name":"nucs"},"transform":[{"filter":"datum.n=='103Rh'"}],"mark":{"type":"text","align":"right","baseline":"alphabetic","dx":-8,"dy":37,"fontSize":23,"fontWeight":"bold","color":"black"},"encoding":{"x":{"datum":24,"type":"quantitative","axis":null},"y":{"datum":240,"type":"quantitative","axis":null},"text":{"field":"el","type":"nominal"}}},
  {"data":{"name":"nucs"},"transform":[{"filter":"datum.n=='103Rh'"}],"mark":{"type":"text","align":"right","baseline":"alphabetic","dx":-39,"dy":24,"fontSize":13,"fontWeight":"bold","color":"black"},"encoding":{"x":{"datum":24,"type":"quantitative","axis":null},"y":{"datum":240,"type":"quantitative","axis":null},"text":{"field":"A","type":"nominal"}}}
 ]},
 {"width":128,"height":128,"view":{"stroke":"black","strokeWidth":3},"resolve":{"axis":{"x":"independent","y":"independent"}},"layer":[
  {"data":{"name":"pts"},"transform":[{"filter":"datum.n=='104Rh'"}],"mark":{"type":"line","clip":true,"strokeWidth":2},"encoding":{"x":{"field":"I","type":"quantitative","scale":{"domain":[4,24],"nice":false,"zero":false},"axis":{"orient":"bottom","values":[4,9,14,19,24],"labelExpr":"datum.value==4||datum.value==14?datum.label:''","title":null}},"y":{"field":"J","type":"quantitative","scale":{"domain":[0,240],"nice":false},"axis":{"orient":"left","values":[0,60,120,180,240],"labels":false,"title":null}},"stroke":{"field":"b","type":"nominal","scale":{"domain":["y","s","p","n","g","m"],"range":["#ff0000","#0000ff","#9932ff","#000080","#008000","#ff00ff"]},"legend":null}}},
  {"data":{"name":"pts"},"transform":[{"filter":"datum.n=='104Rh'"}],"mark":{"type":"point","clip":true,"filled":true,"size":45,"strokeWidth":1.5,"opacity":1},"encoding":{"x":{"field":"I","type":"quantitative","axis":{"orient":"top","values":[4,9,14,19,24],"labels":false,"title":null}},"y":{"field":"J","type":"quantitative","axis":{"orient":"right","values":[0,60,120,180,240],"labels":false,"title":null}},"stroke":{"field":"b","type":"nominal","scale":{"domain":["y","s","p","n","g","m"],"range":["#ff0000","#0000ff","#9932ff","#000080","#008000","#ff00ff"]},"legend":null},"fill":{"field":"b","type":"nominal","scale":{"domain":["y","s","p","n","g","m"],"range":["#ff0000","#ffffff","#9932ff","#ffffff","#008000","#ffffff"]},"legend":null},"shape":{"field":"b","type":"nominal","scale":{"domain":["y","s","p","n","g","m"],"range":["circle","square","diamond","M0,-1L0.951,-0.309L0.588,0.809L-0.588,0.809L-0.951,-0.309Z","triangle-down","triangle-up"]},"legend":null}}},
  {"data":{"name":"nucs"},"transform":[{"filter":"datum.n=='104Rh'"}],"mark":{"type":"text","align":"right","baseline":"alphabetic","dx":-8,"dy":37,"fontSize":23,"fontWeight":"bold","color":"black"},"encoding":{"x":{"datum":24,"type":"quantitative","axis":null},"y":{"datum":240,"type":"quantitative","axis":null},"text":{"field":"el","type":"nominal"}}},
  {"data":{"name":"nucs"},"transform":[{"filter":"datum.n=='104Rh'"}],"mark":{"type":"text","align":"right","baseline":"alphabetic","dx":-39,"dy":24,"fontSize":13,"fontWeight":"bold","color":"black"},"encoding":{"x":{"datum":24,"type":"quantitative","axis":null},"y":{"datum":240,"type":"quantitative","axis":null},"text":{"field":"A","type":"nominal"}}}
 ]},
 {"width":128,"height":128,"view":{"stroke":"black","strokeWidth":3},"resolve":{"axis":{"x":"independent","y":"independent"}},"layer":[
  {"data":{"name":"pts"},"transform":[{"filter":"datum.n=='105Rh'"}],"mark":{"type":"line","clip":true,"strokeWidth":2},"encoding":{"x":{"field":"I","type":"quantitative","scale":{"domain":[4,24],"nice":false,"zero":false},"axis":{"orient":"bottom","values":[4,9,14,19,24],"labelExpr":"datum.value==4||datum.value==14?datum.label:''","title":null}},"y":{"field":"J","type":"quantitative","scale":{"domain":[0,240],"nice":false},"axis":{"orient":"left","values":[0,60,120,180,240],"labels":false,"title":null}},"stroke":{"field":"b","type":"nominal","scale":{"domain":["y","s","p","n","g","m"],"range":["#ff0000","#0000ff","#9932ff","#000080","#008000","#ff00ff"]},"legend":null}}},
  {"data":{"name":"pts"},"transform":[{"filter":"datum.n=='105Rh'"}],"mark":{"type":"point","clip":true,"filled":true,"size":45,"strokeWidth":1.5,"opacity":1},"encoding":{"x":{"field":"I","type":"quantitative","axis":{"orient":"top","values":[4,9,14,19,24],"labels":false,"title":null}},"y":{"field":"J","type":"quantitative","axis":{"orient":"right","values":[0,60,120,180,240],"labels":false,"title":null}},"stroke":{"field":"b","type":"nominal","scale":{"domain":["y","s","p","n","g","m"],"range":["#ff0000","#0000ff","#9932ff","#000080","#008000","#ff00ff"]},"legend":null},"fill":{"field":"b","type":"nominal","scale":{"domain":["y","s","p","n","g","m"],"range":["#ff0000","#ffffff","#9932ff","#ffffff","#008000","#ffffff"]},"legend":null},"shape":{"field":"b","type":"nominal","scale":{"domain":["y","s","p","n","g","m"],"range":["circle","square","diamond","M0,-1L0.951,-0.309L0.588,0.809L-0.588,0.809L-0.951,-0.309Z","triangle-down","triangle-up"]},"legend":null}}},
  {"data":{"name":"nucs"},"transform":[{"filter":"datum.n=='105Rh'"}],"mark":{"type":"text","align":"right","baseline":"alphabetic","dx":-8,"dy":37,"fontSize":23,"fontWeight":"bold","color":"black"},"encoding":{"x":{"datum":24,"type":"quantitative","axis":null},"y":{"datum":240,"type":"quantitative","axis":null},"text":{"field":"el","type":"nominal"}}},
  {"data":{"name":"nucs"},"transform":[{"filter":"datum.n=='105Rh'"}],"mark":{"type":"text","align":"right","baseline":"alphabetic","dx":-39,"dy":24,"fontSize":13,"fontWeight":"bold","color":"black"},"encoding":{"x":{"datum":24,"type":"quantitative","axis":null},"y":{"datum":240,"type":"quantitative","axis":null},"text":{"field":"A","type":"nominal"}}}
 ]},
 {"width":128,"height":128,"view":{"stroke":"black","strokeWidth":3},"resolve":{"axis":{"x":"independent","y":"independent"}},"layer":[
  {"data":{"name":"pts"},"transform":[{"filter":"datum.n=='106Rh'"}],"mark":{"type":"line","clip":true,"strokeWidth":2},"encoding":{"x":{"field":"I","type":"quantitative","scale":{"domain":[4,24],"nice":false,"zero":false},"axis":{"orient":"bottom","values":[4,9,14,19,24],"labelExpr":"datum.value%10==4?datum.label:''","title":null}},"y":{"field":"J","type":"quantitative","scale":{"domain":[0,240],"nice":false},"axis":{"orient":"left","values":[0,60,120,180,240],"labels":false,"title":null}},"stroke":{"field":"b","type":"nominal","scale":{"domain":["y","s","p","n","g","m"],"range":["#ff0000","#0000ff","#9932ff","#000080","#008000","#ff00ff"]},"legend":null}}},
  {"data":{"name":"pts"},"transform":[{"filter":"datum.n=='106Rh'"}],"mark":{"type":"point","clip":true,"filled":true,"size":45,"strokeWidth":1.5,"opacity":1},"encoding":{"x":{"field":"I","type":"quantitative","axis":{"orient":"top","values":[4,9,14,19,24],"labels":false,"title":null}},"y":{"field":"J","type":"quantitative","axis":{"orient":"right","values":[0,60,120,180,240],"labels":false,"title":null}},"stroke":{"field":"b","type":"nominal","scale":{"domain":["y","s","p","n","g","m"],"range":["#ff0000","#0000ff","#9932ff","#000080","#008000","#ff00ff"]},"legend":null},"fill":{"field":"b","type":"nominal","scale":{"domain":["y","s","p","n","g","m"],"range":["#ff0000","#ffffff","#9932ff","#ffffff","#008000","#ffffff"]},"legend":null},"shape":{"field":"b","type":"nominal","scale":{"domain":["y","s","p","n","g","m"],"range":["circle","square","diamond","M0,-1L0.951,-0.309L0.588,0.809L-0.588,0.809L-0.951,-0.309Z","triangle-down","triangle-up"]},"legend":null}}},
  {"data":{"name":"nucs"},"transform":[{"filter":"datum.n=='106Rh'"}],"mark":{"type":"text","align":"left","baseline":"alphabetic","dx":29,"dy":37,"fontSize":23,"fontWeight":"bold","color":"black"},"encoding":{"x":{"datum":4,"type":"quantitative","axis":null},"y":{"datum":240,"type":"quantitative","axis":null},"text":{"field":"el","type":"nominal"}}},
  {"data":{"name":"nucs"},"transform":[{"filter":"datum.n=='106Rh'"}],"mark":{"type":"text","align":"left","baseline":"alphabetic","dx":6,"dy":24,"fontSize":13,"fontWeight":"bold","color":"black"},"encoding":{"x":{"datum":4,"type":"quantitative","axis":null},"y":{"datum":240,"type":"quantitative","axis":null},"text":{"field":"A","type":"nominal"}}}
 ]},
 {"width":1,"height":1,"data":{"values":[]},"mark":"point"},
 {"width":1,"height":1,"data":{"values":[]},"mark":"point"},
 {"width":128,"height":128,"view":{"stroke":"black","strokeWidth":3},"resolve":{"axis":{"x":"independent","y":"independent"}},"layer":[
  {"data":{"name":"pts"},"transform":[{"filter":"datum.n=='111Rh'"}],"mark":{"type":"line","clip":true,"strokeWidth":2},"encoding":{"x":{"field":"I","type":"quantitative","scale":{"domain":[4,24],"nice":false,"zero":false},"axis":{"orient":"bottom","values":[4,9,14,19,24],"labels":false,"title":null}},"y":{"field":"J","type":"quantitative","scale":{"domain":[0,240],"nice":false},"axis":{"orient":"left","values":[0,60,120,180,240],"labels":false,"title":null}},"stroke":{"field":"b","type":"nominal","scale":{"domain":["y","s","p","n","g","m"],"range":["#ff0000","#0000ff","#9932ff","#000080","#008000","#ff00ff"]},"legend":null}}},
  {"data":{"name":"pts"},"transform":[{"filter":"datum.n=='111Rh'"}],"mark":{"type":"point","clip":true,"filled":true,"size":45,"strokeWidth":1.5,"opacity":1},"encoding":{"x":{"field":"I","type":"quantitative","axis":{"orient":"top","values":[4,9,14,19,24],"labels":false,"title":null}},"y":{"field":"J","type":"quantitative","axis":{"orient":"right","values":[0,60,120,180,240],"labels":false,"title":null}},"stroke":{"field":"b","type":"nominal","scale":{"domain":["y","s","p","n","g","m"],"range":["#ff0000","#0000ff","#9932ff","#000080","#008000","#ff00ff"]},"legend":null},"fill":{"field":"b","type":"nominal","scale":{"domain":["y","s","p","n","g","m"],"range":["#ff0000","#ffffff","#9932ff","#ffffff","#008000","#ffffff"]},"legend":null},"shape":{"field":"b","type":"nominal","scale":{"domain":["y","s","p","n","g","m"],"range":["circle","square","diamond","M0,-1L0.951,-0.309L0.588,0.809L-0.588,0.809L-0.951,-0.309Z","triangle-down","triangle-up"]},"legend":null}}},
  {"data":{"name":"nucs"},"transform":[{"filter":"datum.n=='111Rh'"}],"mark":{"type":"text","align":"right","baseline":"alphabetic","dx":-8,"dy":37,"fontSize":23,"fontWeight":"bold","color":"black"},"encoding":{"x":{"datum":24,"type":"quantitative","axis":null},"y":{"datum":240,"type":"quantitative","axis":null},"text":{"field":"el","type":"nominal"}}},
  {"data":{"name":"nucs"},"transform":[{"filter":"datum.n=='111Rh'"}],"mark":{"type":"text","align":"right","baseline":"alphabetic","dx":-39,"dy":24,"fontSize":13,"fontWeight":"bold","color":"black"},"encoding":{"x":{"datum":24,"type":"quantitative","axis":null},"y":{"datum":240,"type":"quantitative","axis":null},"text":{"field":"A","type":"nominal"}}}
 ]},
 {"width":1,"height":1,"data":{"values":[]},"mark":"point"},
 {"width":128,"height":128,"view":{"stroke":"black","strokeWidth":3},"resolve":{"axis":{"x":"independent","y":"independent"}},"layer":[
  {"data":{"name":"pts"},"transform":[{"filter":"datum.n=='113Rh'"}],"mark":{"type":"line","clip":true,"strokeWidth":2},"encoding":{"x":{"field":"I","type":"quantitative","scale":{"domain":[4,24],"nice":false,"zero":false},"axis":{"orient":"bottom","values":[4,9,14,19,24],"labels":false,"title":null}},"y":{"field":"J","type":"quantitative","scale":{"domain":[0,240],"nice":false},"axis":{"orient":"left","values":[0,60,120,180,240],"labels":false,"title":null}},"stroke":{"field":"b","type":"nominal","scale":{"domain":["y","s","p","n","g","m"],"range":["#ff0000","#0000ff","#9932ff","#000080","#008000","#ff00ff"]},"legend":null}}},
  {"data":{"name":"pts"},"transform":[{"filter":"datum.n=='113Rh'"}],"mark":{"type":"point","clip":true,"filled":true,"size":45,"strokeWidth":1.5,"opacity":1},"encoding":{"x":{"field":"I","type":"quantitative","axis":{"orient":"top","values":[4,9,14,19,24],"labels":false,"title":null}},"y":{"field":"J","type":"quantitative","axis":{"orient":"right","values":[0,60,120,180,240],"labels":false,"title":null}},"stroke":{"field":"b","type":"nominal","scale":{"domain":["y","s","p","n","g","m"],"range":["#ff0000","#0000ff","#9932ff","#000080","#008000","#ff00ff"]},"legend":null},"fill":{"field":"b","type":"nominal","scale":{"domain":["y","s","p","n","g","m"],"range":["#ff0000","#ffffff","#9932ff","#ffffff","#008000","#ffffff"]},"legend":null},"shape":{"field":"b","type":"nominal","scale":{"domain":["y","s","p","n","g","m"],"range":["circle","square","diamond","M0,-1L0.951,-0.309L0.588,0.809L-0.588,0.809L-0.951,-0.309Z","triangle-down","triangle-up"]},"legend":null}}},
  {"data":{"name":"nucs"},"transform":[{"filter":"datum.n=='113Rh'"}],"mark":{"type":"text","align":"right","baseline":"alphabetic","dx":-8,"dy":37,"fontSize":23,"fontWeight":"bold","color":"black"},"encoding":{"x":{"datum":24,"type":"quantitative","axis":null},"y":{"datum":240,"type":"quantitative","axis":null},"text":{"field":"el","type":"nominal"}}},
  {"data":{"name":"nucs"},"transform":[{"filter":"datum.n=='113Rh'"}],"mark":{"type":"text","align":"right","baseline":"alphabetic","dx":-39,"dy":24,"fontSize":13,"fontWeight":"bold","color":"black"},"encoding":{"x":{"datum":24,"type":"quantitative","axis":null},"y":{"datum":240,"type":"quantitative","axis":null},"text":{"field":"A","type":"nominal"}}}
 ]},

 {"width":100,"height":128,"data":{"values":[{"t":"Z"}]},"layer":[
  {"mark":{"type":"rule","stroke":"#0000ff","strokeWidth":3},"encoding":{"x":{"datum":0.68,"type":"quantitative","scale":{"domain":[0,1],"nice":false},"axis":null},"y":{"datum":0,"type":"quantitative","scale":{"domain":[0.2482,0.7021],"nice":false,"zero":false},"axis":null},"y2":{"datum":1}}},
  {"mark":{"type":"point","shape":"M-1,2L0,0L1,2","size":484,"filled":false,"stroke":"#0000ff","strokeWidth":3,"opacity":1},"encoding":{"x":{"datum":0.68,"type":"quantitative"},"y":{"datum":1,"type":"quantitative"}}},
  {"mark":{"type":"text","fontSize":44,"fontWeight":"bold","color":"#0000ff","baseline":"alphabetic","dy":16},"encoding":{"x":{"datum":0.31,"type":"quantitative"},"y":{"datum":0.5,"type":"quantitative"},"text":{"field":"t","type":"nominal"}}}
 ]},
 {"width":54,"height":128,"data":{"values":[{"t":"44"}]},"mark":{"type":"text","fontSize":33,"fontWeight":"bold","color":"#0000ff","baseline":"alphabetic","dy":6},"encoding":{"x":{"datum":0.5,"type":"quantitative","scale":{"domain":[0,1]},"axis":null},"y":{"datum":0.5,"type":"quantitative","scale":{"domain":[0,1]},"axis":null},"text":{"field":"t","type":"nominal"}}},
 {"width":1,"height":1,"data":{"values":[]},"mark":"point"},
 {"width":1,"height":1,"data":{"values":[]},"mark":"point"},
 {"width":1,"height":1,"data":{"values":[]},"mark":"point"},
 {"width":128,"height":128,"data":{"values":[]},"resolve":{"axis":{"y":"independent"}},"layer":[
  {"mark":"point","encoding":{"x":{"datum":0.5,"type":"quantitative","scale":{"domain":[0,1]},"axis":null},"y":{"field":"v","type":"quantitative","scale":{"domain":[0,1]},"axis":{"orient":"left","domain":true,"domainColor":"#c0c0c0","domainWidth":3,"ticks":false,"labels":false,"title":null}}}},
  {"mark":"point","encoding":{"x":{"datum":0.5,"type":"quantitative"},"y":{"field":"v","type":"quantitative","axis":{"orient":"right","domain":true,"domainColor":"#c0c0c0","domainWidth":3,"ticks":false,"labels":false,"title":null}}}}
 ]},
 {"width":1,"height":1,"data":{"values":[]},"mark":"point"},
 {"width":1,"height":1,"data":{"values":[]},"mark":"point"},
 {"width":1,"height":1,"data":{"values":[]},"mark":"point"},
 {"width":1,"height":1,"data":{"values":[]},"mark":"point"},
 {"width":128,"height":128,"view":{"stroke":"#c0c0c0","strokeWidth":3},"data":{"values":[]},"mark":"point"},
 {"width":1,"height":1,"data":{"values":[]},"mark":"point"},
 {"width":128,"height":128,"view":{"stroke":"black","strokeWidth":3},"resolve":{"axis":{"x":"independent","y":"independent"}},"layer":[
  {"data":{"name":"pts"},"transform":[{"filter":"datum.n=='110Ru'"}],"mark":{"type":"line","clip":true,"strokeWidth":2},"encoding":{"x":{"field":"I","type":"quantitative","scale":{"domain":[4,24],"nice":false,"zero":false},"axis":{"orient":"bottom","values":[4,9,14,19,24],"labelExpr":"datum.value==4||datum.value==14?datum.label:''","title":null}},"y":{"field":"J","type":"quantitative","scale":{"domain":[0,240],"nice":false},"axis":{"orient":"left","values":[0,60,120,180,240],"labelExpr":"datum.value%120==0?datum.label:''","title":null}},"stroke":{"field":"b","type":"nominal","scale":{"domain":["y","s","p","n","g","m"],"range":["#ff0000","#0000ff","#9932ff","#000080","#008000","#ff00ff"]},"legend":null}}},
  {"data":{"name":"pts"},"transform":[{"filter":"datum.n=='110Ru'"}],"mark":{"type":"point","clip":true,"filled":true,"size":45,"strokeWidth":1.5,"opacity":1},"encoding":{"x":{"field":"I","type":"quantitative","axis":{"orient":"top","values":[4,9,14,19,24],"labels":false,"title":null}},"y":{"field":"J","type":"quantitative","axis":{"orient":"right","values":[0,60,120,180,240],"labels":false,"title":null}},"stroke":{"field":"b","type":"nominal","scale":{"domain":["y","s","p","n","g","m"],"range":["#ff0000","#0000ff","#9932ff","#000080","#008000","#ff00ff"]},"legend":null},"fill":{"field":"b","type":"nominal","scale":{"domain":["y","s","p","n","g","m"],"range":["#ff0000","#ffffff","#9932ff","#ffffff","#008000","#ffffff"]},"legend":null},"shape":{"field":"b","type":"nominal","scale":{"domain":["y","s","p","n","g","m"],"range":["circle","square","diamond","M0,-1L0.951,-0.309L0.588,0.809L-0.588,0.809L-0.951,-0.309Z","triangle-down","triangle-up"]},"legend":null}}},
  {"data":{"name":"nucs"},"transform":[{"filter":"datum.n=='110Ru'"}],"mark":{"type":"text","align":"right","baseline":"alphabetic","dx":-8,"dy":37,"fontSize":23,"fontWeight":"bold","color":"black"},"encoding":{"x":{"datum":24,"type":"quantitative","axis":null},"y":{"datum":240,"type":"quantitative","axis":null},"text":{"field":"el","type":"nominal"}}},
  {"data":{"name":"nucs"},"transform":[{"filter":"datum.n=='110Ru'"}],"mark":{"type":"text","align":"right","baseline":"alphabetic","dx":-39,"dy":24,"fontSize":13,"fontWeight":"bold","color":"black"},"encoding":{"x":{"datum":24,"type":"quantitative","axis":null},"y":{"datum":240,"type":"quantitative","axis":null},"text":{"field":"A","type":"nominal"}}}
 ]},
 {"width":1,"height":1,"data":{"values":[]},"mark":"point"},
 {"width":128,"height":128,"view":{"stroke":"black","strokeWidth":3},"resolve":{"axis":{"x":"independent","y":"independent"}},"layer":[
  {"data":{"name":"pts"},"transform":[{"filter":"datum.n=='112Ru'"}],"mark":{"type":"line","clip":true,"strokeWidth":2},"encoding":{"x":{"field":"I","type":"quantitative","scale":{"domain":[4,24],"nice":false,"zero":false},"axis":{"orient":"bottom","values":[4,9,14,19,24],"labelExpr":"datum.value%10==4?datum.label:''","title":null}},"y":{"field":"J","type":"quantitative","scale":{"domain":[0,240],"nice":false},"axis":{"orient":"left","values":[0,60,120,180,240],"labels":false,"title":null}},"stroke":{"field":"b","type":"nominal","scale":{"domain":["y","s","p","n","g","m"],"range":["#ff0000","#0000ff","#9932ff","#000080","#008000","#ff00ff"]},"legend":null}}},
  {"data":{"name":"pts"},"transform":[{"filter":"datum.n=='112Ru'"}],"mark":{"type":"point","clip":true,"filled":true,"size":45,"strokeWidth":1.5,"opacity":1},"encoding":{"x":{"field":"I","type":"quantitative","axis":{"orient":"top","values":[4,9,14,19,24],"labels":false,"title":null}},"y":{"field":"J","type":"quantitative","axis":{"orient":"right","values":[0,60,120,180,240],"labels":false,"title":null}},"stroke":{"field":"b","type":"nominal","scale":{"domain":["y","s","p","n","g","m"],"range":["#ff0000","#0000ff","#9932ff","#000080","#008000","#ff00ff"]},"legend":null},"fill":{"field":"b","type":"nominal","scale":{"domain":["y","s","p","n","g","m"],"range":["#ff0000","#ffffff","#9932ff","#ffffff","#008000","#ffffff"]},"legend":null},"shape":{"field":"b","type":"nominal","scale":{"domain":["y","s","p","n","g","m"],"range":["circle","square","diamond","M0,-1L0.951,-0.309L0.588,0.809L-0.588,0.809L-0.951,-0.309Z","triangle-down","triangle-up"]},"legend":null}}},
  {"data":{"name":"nucs"},"transform":[{"filter":"datum.n=='112Ru'"}],"mark":{"type":"text","align":"right","baseline":"alphabetic","dx":-8,"dy":37,"fontSize":23,"fontWeight":"bold","color":"black"},"encoding":{"x":{"datum":24,"type":"quantitative","axis":null},"y":{"datum":240,"type":"quantitative","axis":null},"text":{"field":"el","type":"nominal"}}},
  {"data":{"name":"nucs"},"transform":[{"filter":"datum.n=='112Ru'"}],"mark":{"type":"text","align":"right","baseline":"alphabetic","dx":-39,"dy":24,"fontSize":13,"fontWeight":"bold","color":"black"},"encoding":{"x":{"datum":24,"type":"quantitative","axis":null},"y":{"datum":240,"type":"quantitative","axis":null},"text":{"field":"A","type":"nominal"}}}
 ]},

 {"width":1,"height":1,"data":{"values":[]},"mark":"point"},
 {"width":54,"height":128,"data":{"values":[{"t":"43"}]},"mark":{"type":"text","fontSize":33,"fontWeight":"bold","color":"#0000ff","baseline":"alphabetic","dy":13},"encoding":{"x":{"datum":0.5,"type":"quantitative","scale":{"domain":[0,1]},"axis":null},"y":{"datum":0.5,"type":"quantitative","scale":{"domain":[0,1]},"axis":null},"text":{"field":"t","type":"nominal"}}},
 {"width":1,"height":1,"data":{"values":[]},"mark":"point"},
 {"width":128,"height":128,"view":{"stroke":"black","strokeWidth":3},"resolve":{"axis":{"x":"independent","y":"independent"}},"layer":[
  {"data":{"name":"pts"},"transform":[{"filter":"datum.n=='98Tc'"}],"mark":{"type":"line","clip":true,"strokeWidth":2},"encoding":{"x":{"field":"I","type":"quantitative","scale":{"domain":[4,24],"nice":false,"zero":false},"axis":{"orient":"bottom","values":[4,9,14,19,24],"labelExpr":"datum.value==4||datum.value==14?datum.label:''","title":null}},"y":{"field":"J","type":"quantitative","scale":{"domain":[0,240],"nice":false},"axis":{"orient":"left","values":[0,60,120,180,240],"labelExpr":"datum.value%120==0?datum.label:''","title":null}},"stroke":{"field":"b","type":"nominal","scale":{"domain":["y","s","p","n","g","m"],"range":["#ff0000","#0000ff","#9932ff","#000080","#008000","#ff00ff"]},"legend":null}}},
  {"data":{"name":"pts"},"transform":[{"filter":"datum.n=='98Tc'"}],"mark":{"type":"point","clip":true,"filled":true,"size":45,"strokeWidth":1.5,"opacity":1},"encoding":{"x":{"field":"I","type":"quantitative","axis":{"orient":"top","values":[4,9,14,19,24],"labels":false,"title":null}},"y":{"field":"J","type":"quantitative","axis":{"orient":"right","values":[0,60,120,180,240],"labels":false,"title":null}},"stroke":{"field":"b","type":"nominal","scale":{"domain":["y","s","p","n","g","m"],"range":["#ff0000","#0000ff","#9932ff","#000080","#008000","#ff00ff"]},"legend":null},"fill":{"field":"b","type":"nominal","scale":{"domain":["y","s","p","n","g","m"],"range":["#ff0000","#ffffff","#9932ff","#ffffff","#008000","#ffffff"]},"legend":null},"shape":{"field":"b","type":"nominal","scale":{"domain":["y","s","p","n","g","m"],"range":["circle","square","diamond","M0,-1L0.951,-0.309L0.588,0.809L-0.588,0.809L-0.951,-0.309Z","triangle-down","triangle-up"]},"legend":null}}},
  {"data":{"name":"nucs"},"transform":[{"filter":"datum.n=='98Tc'"}],"mark":{"type":"text","align":"right","baseline":"alphabetic","dx":-8,"dy":37,"fontSize":23,"fontWeight":"bold","color":"black"},"encoding":{"x":{"datum":24,"type":"quantitative","axis":null},"y":{"datum":240,"type":"quantitative","axis":null},"text":{"field":"el","type":"nominal"}}},
  {"data":{"name":"nucs"},"transform":[{"filter":"datum.n=='98Tc'"}],"mark":{"type":"text","align":"right","baseline":"alphabetic","dx":-35,"dy":24,"fontSize":13,"fontWeight":"bold","color":"black"},"encoding":{"x":{"datum":24,"type":"quantitative","axis":null},"y":{"datum":240,"type":"quantitative","axis":null},"text":{"field":"A","type":"nominal"}}}
 ]},
 {"width":1,"height":1,"data":{"values":[]},"mark":"point"},
 {"width":128,"height":128,"view":{"stroke":"black","strokeWidth":3},"resolve":{"axis":{"x":"independent","y":"independent"}},"layer":[
  {"data":{"name":"pts"},"transform":[{"filter":"datum.n=='100Tc'"}],"mark":{"type":"line","clip":true,"strokeWidth":2},"encoding":{"x":{"field":"I","type":"quantitative","scale":{"domain":[4,24],"nice":false,"zero":false},"axis":{"orient":"bottom","values":[4,9,14,19,24],"labelExpr":"datum.value%10==4?datum.label:''","title":null}},"y":{"field":"J","type":"quantitative","scale":{"domain":[0,240],"nice":false},"axis":{"orient":"left","values":[0,60,120,180,240],"labels":false,"title":null}},"stroke":{"field":"b","type":"nominal","scale":{"domain":["y","s","p","n","g","m"],"range":["#ff0000","#0000ff","#9932ff","#000080","#008000","#ff00ff"]},"legend":null}}},
  {"data":{"name":"pts"},"transform":[{"filter":"datum.n=='100Tc'"}],"mark":{"type":"point","clip":true,"filled":true,"size":45,"strokeWidth":1.5,"opacity":1},"encoding":{"x":{"field":"I","type":"quantitative","axis":{"orient":"top","values":[4,9,14,19,24],"labels":false,"title":null}},"y":{"field":"J","type":"quantitative","axis":{"orient":"right","values":[0,60,120,180,240],"labels":false,"title":null}},"stroke":{"field":"b","type":"nominal","scale":{"domain":["y","s","p","n","g","m"],"range":["#ff0000","#0000ff","#9932ff","#000080","#008000","#ff00ff"]},"legend":null},"fill":{"field":"b","type":"nominal","scale":{"domain":["y","s","p","n","g","m"],"range":["#ff0000","#ffffff","#9932ff","#ffffff","#008000","#ffffff"]},"legend":null},"shape":{"field":"b","type":"nominal","scale":{"domain":["y","s","p","n","g","m"],"range":["circle","square","diamond","M0,-1L0.951,-0.309L0.588,0.809L-0.588,0.809L-0.951,-0.309Z","triangle-down","triangle-up"]},"legend":null}}},
  {"data":{"name":"nucs"},"transform":[{"filter":"datum.n=='100Tc'"}],"mark":{"type":"text","align":"right","baseline":"alphabetic","dx":-8,"dy":37,"fontSize":23,"fontWeight":"bold","color":"black"},"encoding":{"x":{"datum":24,"type":"quantitative","axis":null},"y":{"datum":240,"type":"quantitative","axis":null},"text":{"field":"el","type":"nominal"}}},
  {"data":{"name":"nucs"},"transform":[{"filter":"datum.n=='100Tc'"}],"mark":{"type":"text","align":"right","baseline":"alphabetic","dx":-35,"dy":24,"fontSize":13,"fontWeight":"bold","color":"black"},"encoding":{"x":{"datum":24,"type":"quantitative","axis":null},"y":{"datum":240,"type":"quantitative","axis":null},"text":{"field":"A","type":"nominal"}}}
 ]},
 {"width":1,"height":1,"data":{"values":[]},"mark":"point"},
 {"width":1,"height":1,"data":{"values":[]},"mark":"point"},
 {"width":1,"height":1,"data":{"values":[]},"mark":"point"},
 {"width":1,"height":1,"data":{"values":[]},"mark":"point"},
 {"width":128,"height":128,"view":{"stroke":"#c0c0c0","strokeWidth":3},"data":{"values":[]},"mark":"point"},
 {"width":1,"height":1,"data":{"values":[]},"mark":"point"},
 {"width":1,"height":1,"data":{"values":[]},"mark":"point"},
 {"width":1,"height":1,"data":{"values":[]},"mark":"point"},
 {"width":1,"height":1,"data":{"values":[]},"mark":"point"},

 {"width":1,"height":1,"data":{"values":[]},"mark":"point"},
 {"width":54,"height":128,"data":{"values":[{"t":"42"}]},"mark":{"type":"text","fontSize":33,"fontWeight":"bold","color":"#0000ff","baseline":"alphabetic","dy":3},"encoding":{"x":{"datum":0.5,"type":"quantitative","scale":{"domain":[0,1]},"axis":null},"y":{"datum":0.5,"type":"quantitative","scale":{"domain":[0,1]},"axis":null},"text":{"field":"t","type":"nominal"}}},
 {"width":1,"height":1,"data":{"values":[]},"mark":"point"},
 {"width":1,"height":1,"data":{"values":[]},"mark":"point"},
 {"width":1,"height":1,"data":{"values":[]},"mark":"point"},
 {"width":1,"height":1,"data":{"values":[]},"mark":"point"},
 {"width":1,"height":1,"data":{"values":[]},"mark":"point"},
 {"width":1,"height":1,"data":{"values":[]},"mark":"point"},
 {"width":1,"height":1,"data":{"values":[]},"mark":"point"},
 {"width":1,"height":1,"data":{"values":[]},"mark":"point"},
 {"width":128,"height":128,"view":{"stroke":"black","strokeWidth":3},"resolve":{"axis":{"x":"independent","y":"independent"}},"layer":[
  {"data":{"name":"pts"},"transform":[{"filter":"datum.n=='106Mo'"}],"mark":{"type":"line","clip":true,"strokeWidth":2},"encoding":{"x":{"field":"I","type":"quantitative","scale":{"domain":[4,24],"nice":false,"zero":false},"axis":{"orient":"bottom","values":[4,9,14,19,24],"labelExpr":"datum.value%10==4?datum.label:''","title":null}},"y":{"field":"J","type":"quantitative","scale":{"domain":[0,240],"nice":false},"axis":{"orient":"left","values":[0,60,120,180,240],"labelExpr":"datum.value%120==0?datum.label:''","title":null}},"stroke":{"field":"b","type":"nominal","scale":{"domain":["y","s","p","n","g","m"],"range":["#ff0000","#0000ff","#9932ff","#000080","#008000","#ff00ff"]},"legend":null}}},
  {"data":{"name":"pts"},"transform":[{"filter":"datum.n=='106Mo'"}],"mark":{"type":"point","clip":true,"filled":true,"size":45,"strokeWidth":1.5,"opacity":1},"encoding":{"x":{"field":"I","type":"quantitative","axis":{"orient":"top","values":[4,9,14,19,24],"labels":false,"title":null}},"y":{"field":"J","type":"quantitative","axis":{"orient":"right","values":[0,60,120,180,240],"labels":false,"title":null}},"stroke":{"field":"b","type":"nominal","scale":{"domain":["y","s","p","n","g","m"],"range":["#ff0000","#0000ff","#9932ff","#000080","#008000","#ff00ff"]},"legend":null},"fill":{"field":"b","type":"nominal","scale":{"domain":["y","s","p","n","g","m"],"range":["#ff0000","#ffffff","#9932ff","#ffffff","#008000","#ffffff"]},"legend":null},"shape":{"field":"b","type":"nominal","scale":{"domain":["y","s","p","n","g","m"],"range":["circle","square","diamond","M0,-1L0.951,-0.309L0.588,0.809L-0.588,0.809L-0.951,-0.309Z","triangle-down","triangle-up"]},"legend":null}}},
  {"data":{"name":"nucs"},"transform":[{"filter":"datum.n=='106Mo'"}],"mark":{"type":"text","align":"right","baseline":"alphabetic","dx":-8,"dy":37,"fontSize":23,"fontWeight":"bold","color":"black"},"encoding":{"x":{"datum":24,"type":"quantitative","axis":null},"y":{"datum":240,"type":"quantitative","axis":null},"text":{"field":"el","type":"nominal"}}},
  {"data":{"name":"nucs"},"transform":[{"filter":"datum.n=='106Mo'"}],"mark":{"type":"text","align":"right","baseline":"alphabetic","dx":-41,"dy":24,"fontSize":13,"fontWeight":"bold","color":"black"},"encoding":{"x":{"datum":24,"type":"quantitative","axis":null},"y":{"datum":240,"type":"quantitative","axis":null},"text":{"field":"A","type":"nominal"}}}
 ]},
 {"width":1,"height":1,"data":{"values":[]},"mark":"point"},
 {"width":1,"height":1,"data":{"values":[]},"mark":"point"},
 {"width":1,"height":1,"data":{"values":[]},"mark":"point"},
 {"width":1,"height":1,"data":{"values":[]},"mark":"point"},

 {"width":1,"height":1,"data":{"values":[]},"mark":"point"},
 {"width":1,"height":1,"data":{"values":[]},"mark":"point"},
 {"width":1,"height":72,"data":{"values":[]},"mark":"point"},
 {"width":1,"height":1,"data":{"values":[]},"mark":"point"},
 {"width":1,"height":1,"data":{"values":[]},"mark":"point"},
 {"width":1,"height":1,"data":{"values":[]},"mark":"point"},
 {"width":1,"height":1,"data":{"values":[]},"mark":"point"},
 {"width":128,"height":72,"data":{"values":[{"t":"x"}]},"layer":[
  {"mark":{"type":"text","align":"left","baseline":"alphabetic","dx":-30,"dy":21,"fontSize":48,"fontWeight":"bold","color":"black"},"encoding":{"x":{"datum":0.5,"type":"quantitative","scale":{"domain":[0,1]},"axis":null},"y":{"datum":0.5,"type":"quantitative","scale":{"domain":[0,1]},"axis":null},"text":{"value":"Spin I ["}}},
  {"mark":{"type":"text","align":"left","baseline":"alphabetic","dx":131,"dy":21,"fontSize":40,"fontWeight":"bold","fontStyle":"italic","font":"DejaVu Sans","color":"black"},"encoding":{"x":{"datum":0.5,"type":"quantitative"},"y":{"datum":0.5,"type":"quantitative"},"text":{"value":"ℏ"}}},
  {"mark":{"type":"text","align":"left","baseline":"alphabetic","dx":158,"dy":21,"fontSize":48,"fontWeight":"bold","color":"black"},"encoding":{"x":{"datum":0.5,"type":"quantitative"},"y":{"datum":0.5,"type":"quantitative"},"text":{"value":"]"}}}
 ]},
 {"width":1,"height":1,"data":{"values":[]},"mark":"point"},
 {"width":1,"height":1,"data":{"values":[]},"mark":"point"},
 {"width":1,"height":1,"data":{"values":[]},"mark":"point"},
 {"width":1,"height":1,"data":{"values":[]},"mark":"point"},
 {"width":1,"height":1,"data":{"values":[]},"mark":"point"},
 {"width":1,"height":1,"data":{"values":[]},"mark":"point"},
 {"width":1,"height":1,"data":{"values":[]},"mark":"point"}
]
}
